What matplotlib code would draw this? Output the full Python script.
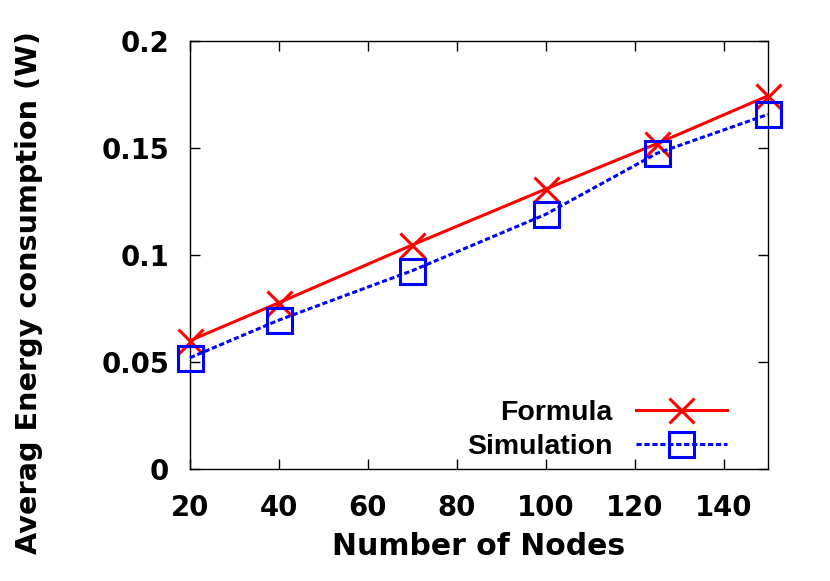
import matplotlib
matplotlib.use("Agg")
import matplotlib.pyplot as plt

nodes = [20, 40, 70, 100, 125, 150]
formula = [0.060, 0.0777, 0.1047, 0.1308, 0.152, 0.1744]
simulation = [0.052, 0.0696, 0.0927, 0.119, 0.1475, 0.1657]
xticks = [20, 40, 60, 80, 100, 120, 140]
yticks = [0, 0.05, 0.1, 0.15, 0.2]
ytick_labels = ["0", "0.05", "0.1", "0.15", "0.2"]

plt.rcParams['font.family'] = ['DejaVu Sans']
plt.rcParams['font.weight'] = 'bold'
FS = 19.8

fig = plt.figure(figsize=(8.30, 5.81), dpi=100)
ax = fig.add_axes([190/830, 1-469/581, (768-190)/830, (469-41)/581])

ax.plot(nodes, formula, color='#ff0000', lw=2.2, marker='x', ms=18, mew=2.2,
        label='Formula', clip_on=False, zorder=3)
ax.plot(nodes, simulation, color='#0000ff', lw=2.2, ls=(0, (1.7, 0.9)), marker='s', ms=18,
        mew=2.2, mfc='none', label='Simulation', clip_on=False, zorder=4)

ax.set_xlim(20, 150)
ax.set_ylim(0, 0.2)
ax.set_xticks(xticks)
ax.set_xticklabels([str(v) for v in xticks])
ax.set_yticks(yticks)
ax.set_yticklabels(ytick_labels)
ax.tick_params(direction='in', length=7, width=1, top=True, right=True, labelsize=FS)
ax.tick_params(axis='y', pad=15)
ax.tick_params(axis='x', pad=18)
for s in ax.spines.values():
    s.set_linewidth(1)

ax.set_xlabel('Number of Nodes', fontsize=21.5, fontweight='bold')
ax.set_ylabel('Averag Energy consumption (W)', fontsize=20.7, fontweight='bold')
ax.xaxis.set_label_coords(0.5, -0.147)
ax.yaxis.set_label_coords(-0.254, 0.412)

leg = ax.legend(loc='lower right', bbox_to_anchor=(0.929, 0.02), frameon=False, markerfirst=False,
                prop={'family': ['Liberation Sans', 'DejaVu Sans'], 'weight': 'bold', 'size': 20.5},
                handlelength=3.2, handletextpad=0.81, labelspacing=0.31,
                borderpad=0, borderaxespad=0, numpoints=1)

fig.savefig('out.png', dpi=100)
